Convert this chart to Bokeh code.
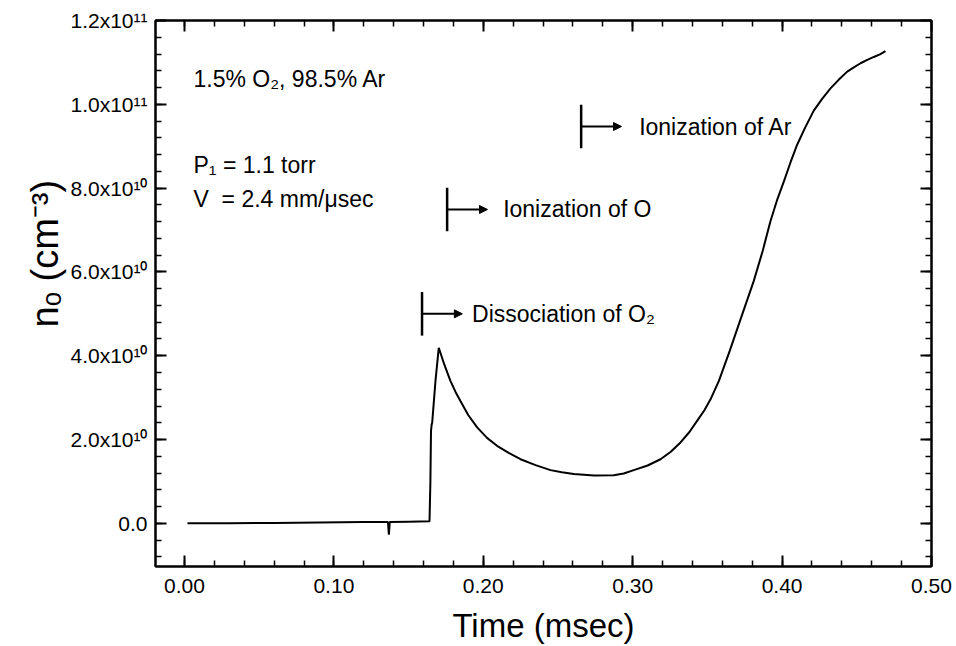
import numpy as np
from bokeh.plotting import figure
from bokeh.models import (Range1d, LinearAxis, FixedTicker, Arrow, NormalHead,
                          ColumnDataSource, Label, Title)
from bokeh.core.properties import value
from bokeh.embed import file_html
from bokeh.resources import INLINE

# ---------------- data ----------------
time_ms = [0.002, 0.030, 0.060, 0.090, 0.120, 0.1362, 0.1368, 0.1374, 0.150, 0.1640,
           0.1646, 0.1650, 0.1654, 0.1658, 0.1680, 0.1702, 0.1740, 0.1780, 0.1815,
           0.1847, 0.1900, 0.1959, 0.2025, 0.2092, 0.2170, 0.2249, 0.2350, 0.2450,
           0.2526, 0.2606, 0.2740, 0.2873, 0.2940, 0.3007, 0.3100, 0.3186, 0.3255,
           0.3320, 0.3380, 0.3432, 0.3480, 0.3521, 0.3577, 0.3650, 0.3720, 0.3810,
           0.3870, 0.3922, 0.3965, 0.4012, 0.4055, 0.4100, 0.4155, 0.4212, 0.4268,
           0.4324, 0.4380, 0.4436, 0.4480, 0.4525, 0.4570, 0.4614, 0.4655, 0.4692]
n_o = [0.0, 0.0, 0.1e9, 0.2e9, 0.3e9, 0.3e9, -2.7e9, 0.3e9, 0.4e9, 0.5e9,
       1.0e10, 2.2e10, 2.35e10, 2.4e10, 3.4e10, 4.19e10, 3.78e10, 3.40e10, 3.13e10,
       2.92e10, 2.58e10, 2.29e10, 2.04e10, 1.85e10, 1.68e10, 1.53e10, 1.39e10, 1.27e10,
       1.22e10, 1.18e10, 1.14e10, 1.15e10, 1.19e10, 1.27e10, 1.38e10, 1.53e10, 1.71e10,
       1.93e10, 2.18e10, 2.45e10, 2.70e10, 2.96e10, 3.40e10, 4.12e10, 4.85e10, 5.78e10,
       6.50e10, 7.21e10, 7.70e10, 8.16e10, 8.60e10, 9.03e10, 9.45e10, 9.85e10, 1.013e11,
       1.038e11, 1.059e11, 1.078e11, 1.088e11, 1.098e11, 1.106e11, 1.113e11, 1.119e11, 1.127e11]

x_ticks = [0.0, 0.1, 0.2, 0.3, 0.4, 0.5]
x_tick_labels = ["0.00", "0.10", "0.20", "0.30", "0.40", "0.50"]
y_ticks = [0.0, 2e10, 4e10, 6e10, 8e10, 1e11, 1.2e11]
y_tick_labels = ["0.0", "2.0x10\u00b9\u2070", "4.0x10\u00b9\u2070", "6.0x10\u00b9\u2070",
                 "8.0x10\u00b9\u2070", "1.0x10\u00b9\u00b9", "1.2x10\u00b9\u00b9"]

event_labels = ["Dissociation of O\u2082", "Ionization of O", "Ionization of Ar"]
event_times = [0.159, 0.1758, 0.2655]
event_levels = [5.0e10, 7.49e10, 9.47e10]

cond_lines = ["1.5% O\u2082, 98.5% Ar", "P\u2081 = 1.1 torr", "V\u00a0\u00a0= 2.4 mm/\u03bcsec"]
cond_levels = [1.061e11, 8.56e10, 7.73e10]

x_title = "Time (msec)"
y_title = "n\u2092 (cm\u207b\u00b3)"

FONT = "Liberation Sans"

# ---------------- figure ----------------
p = figure(width=956, height=646, output_backend="svg", toolbar_location=None,
           x_range=Range1d(-0.0194, 0.50), y_range=Range1d(-1.03e10, 1.2e11),
           min_border_left=155, min_border_right=25, min_border_top=20, min_border_bottom=80)
p.grid.visible = False
p.outline_line_color = "black"
p.outline_line_width = 2
p.background_fill_color = "white"
p.border_fill_color = "white"

xt = FixedTicker(ticks=x_ticks, minor_ticks=list(np.round(np.arange(0.0, 0.5, 0.02), 3)))
yt = FixedTicker(ticks=y_ticks, minor_ticks=list(np.arange(-8e9, 1.2e11, 4e9)))

def style(ax, ticker, labels):
    ax.ticker = ticker
    ax.axis_line_width = 2
    ax.axis_line_color = "black"
    ax.major_tick_line_width = 2
    ax.minor_tick_line_width = 1.5
    ax.major_tick_in = 11
    ax.major_tick_out = 0
    ax.minor_tick_in = 6
    ax.minor_tick_out = 0
    ax.major_label_text_font = FONT
    ax.major_label_text_color = "black"
    ax.axis_label_text_font = FONT
    ax.axis_label_text_font_style = "normal"
    ax.axis_label_text_color = "black"
    if not labels:
        ax.major_label_text_color = None
        ax.major_label_text_alpha = 0
        ax.major_label_standoff = 0

bx = p.xaxis[0]
style(bx, xt, True)
bx.major_label_overrides = dict(zip(x_ticks, x_tick_labels))
bx.major_label_text_font_size = "21px"
bx.major_label_standoff = 12
bx.axis_label = x_title
bx.axis_label_text_font_size = "33px"
bx.axis_label_standoff = 11

ly = p.yaxis[0]
style(ly, yt, True)
ly.major_label_overrides = dict(zip(y_ticks, y_tick_labels))
ly.major_label_text_font_size = "21px"
ly.major_label_standoff = 8

# y axis title as a side title so it can sit above the middle like the reference
p.add_layout(Title(text=y_title, align="left", offset=239, standoff=4,
                   text_font=FONT, text_font_size="38px", text_font_style="normal",
                   text_color="black"), "left")

ra = LinearAxis()
style(ra, yt, False)
p.add_layout(ra, "right")
ta = LinearAxis()
style(ta, xt, False)
p.add_layout(ta, "above")

# ---------------- curve ----------------
src = ColumnDataSource(dict(t=time_ms, n=n_o))
p.line("t", "n", source=src, line_color="black", line_width=2)

# ---------------- condition texts ----------------
p.text(x=[0.006] * len(cond_lines), y=cond_levels, text=cond_lines,
       text_font=value(FONT), text_font_size="23px", text_color="black",
       text_baseline="middle", text_align="left")

# ---------------- event markers ----------------
half = 5.2e9
arrow_len = 0.027
text_gaps = [50, 56, 58]
for lab, t, lvl, gap in zip(event_labels, event_times, event_levels, text_gaps):
    p.segment(x0=[t], y0=[lvl - half], x1=[t], y1=[lvl + half], line_color="black", line_width=2.5)
    p.add_layout(Arrow(x_start=t, y_start=lvl, x_end=t + arrow_len, y_end=lvl,
                       line_color="black", line_width=2,
                       end=NormalHead(size=8, fill_color="black", line_color="black")))
    p.add_layout(Label(x=t, y=lvl, x_offset=gap, text=lab, text_align="left",
                       text_baseline="middle", text_font=FONT, text_font_size="23px",
                       text_color="black"))

open("out.html", "w").write(file_html(p, INLINE))
